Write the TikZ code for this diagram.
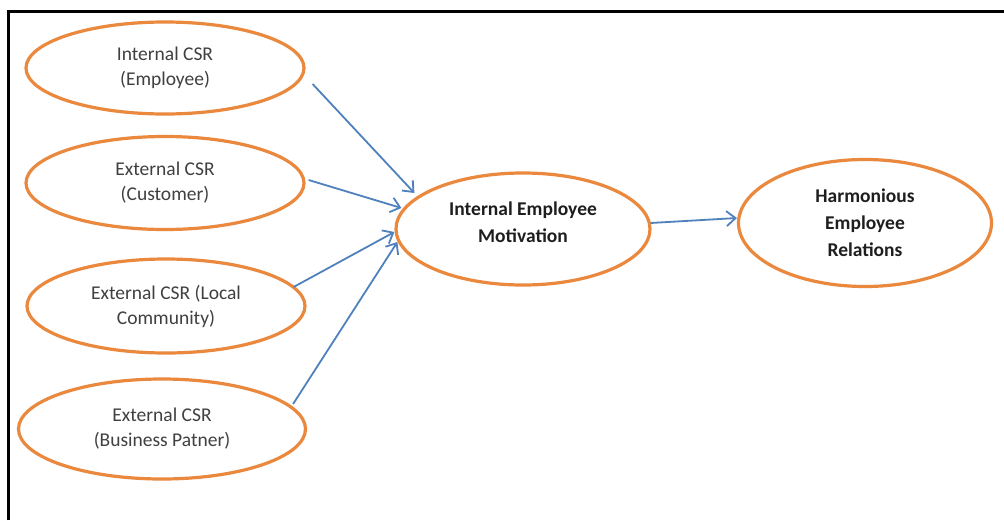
\documentclass[tikz,border=0pt]{standalone}
\usepackage{fontspec}
\setmainfont{Carlito}
\usetikzlibrary{shapes.geometric,arrows.meta,calc}
\definecolor{orng}{RGB}{234,136,62}
\definecolor{arrblue}{RGB}{79,129,189}
\definecolor{txtgray}{RGB}{64,64,64}
\definecolor{txtdark}{RGB}{30,30,30}
\begin{document}
\begin{tikzpicture}[x=1pt,y=-1pt,
  oval/.style={ellipse, draw=orng, line width=3.2pt, fill=white, align=center, inner sep=0pt},
  lefttext/.style={font=\fontsize{19.5}{25}\selectfont, text=txtgray},
  boldtext/.style={font=\fontsize{19.5}{27}\selectfont\bfseries, text=txtdark},
  conn/.style={draw=arrblue, line width=1.8pt, -{Straight Barb[length=9pt,width=15pt]}}]
\fill[white] (0,0) rectangle (1004,520);
\useasboundingbox (0,0) rectangle (1004,520);
\draw[line width=3pt] (8,520) -- (8,11.5) -- (1004,11.5);

\node[oval, lefttext, minimum width=278pt, minimum height=92pt] (a) at (165,68) {Internal CSR\\(Employee)};
\node[oval, lefttext, minimum width=278pt, minimum height=93pt] (b) at (165,183) {External CSR\\(Customer)};
\node[oval, lefttext, minimum width=278pt, minimum height=94pt] (c) at (166,306) {External CSR (Local\\Community)};
\node[oval, lefttext, minimum width=287pt, minimum height=100pt] (d) at (162,429) {External CSR\\(Business Patner)};
\node[oval, minimum width=254pt, minimum height=112pt,
  label={[boldtext, align=center, yshift=7pt]center:Internal Employee\\Motivation}] (m) at (523,229) {};
\node[oval, boldtext, minimum width=253pt, minimum height=127pt] (e) at (865,223) {Harmonious\\Employee\\Relations};

\draw[conn] ($(a.east)+(7,16)$) -- ($(m.west)+(20,-36)$);
\draw[conn] ($(b.east)+(3,-3)$) -- ($(m.west)+(7,-21)$);
\draw[conn] ($(c.east)+(-13,-19)$) -- ($(m.west)+(0,3)$);
\draw[conn] ($(d.east)+(-14,-25)$) -- ($(m.west)+(3,13)$);
\draw[conn] ($(m.east)+(-1,-6)$) -- ($(e.west)+(0,-5)$);
\end{tikzpicture}
\end{document}
